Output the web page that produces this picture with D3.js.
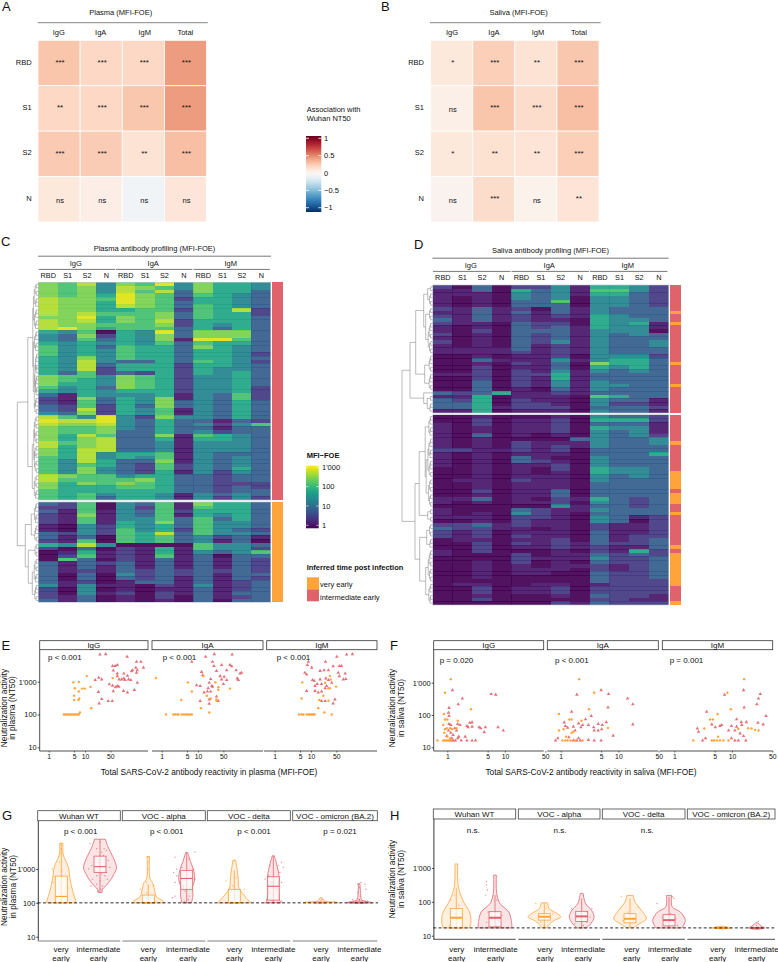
<!DOCTYPE html>
<html><head><meta charset="utf-8">
<script src="https://cdn.jsdelivr.net/npm/d3@7"></script>
<style>html,body{margin:0;padding:0;background:#fff}svg{display:block}text{font-family:"Liberation Sans",Arial,sans-serif;fill:#111}</style>
</head><body><svg id="c" width="778" height="962"></svg>
<script>
// ---------- DATA ----------
const antibodyCols=["IgG","IgA","IgM","Total"];
const antigenRows=["RBD","S1","S2","N"];
const assocPlasma=[[.28,.2,.2,.42],[.2,.2,.27,.42],[.26,.25,.15,.3],[.12,.08,-.05,.13]];
const sigPlasma=[["***","***","***","***"],["**","***","***","***"],["***","***","**","***"],["ns","ns","ns","ns"]];
const assocSaliva=[[.12,.24,.15,.27],[.07,.28,.18,.3],[.12,.16,.14,.24],[.04,.18,.05,.14]];
const sigSaliva=[["*","***","**","***"],["ns","***","***","***"],["*","**","**","***"],["ns","***","ns","**"]];
const levelLog10=[0,.18,.51,.9,1.35,1.77,2.1,2.4,2.64,2.85];
const plasmaIntermediate=["768476947554","767487647554","767486837553","767597636543","877697625543","877597635543","877587636543","877556626582","878666736552","779576736553","878576825553","877666725453","897566635353","546054937773","437254737773","436354719963","545454636553","645365537543","645465535543","645465535542","547465535543","548433536542","548355525543","548255525443","536232525453","766476524453","765476524453","755476524453","645376524452","545455524452","315444514362","217354714362","216354734353","326253734353","328254614353","437254614353","864942744353","988943533132","877843534246","766743533133","766733534233","758633716543","757833515543","867833414443","857833414443","758833414443","758455614333","658454614343","648533714343","646532624343","647432624353","647432514243","876645533233","866667533233","757676533222","755566533232","655555533233","656455414343","656355414242"];
const plasmaEarly=["326043617553","226042616553","316143625553","217143615453","216144636353","216154736443","104254536443","104264526432","324265836443","313065634231","216065634130","548400006443","203021516442","015121514346","026121613033","063021313132","313231313132","313131313132","312132323232","303042323133","303032313132","312013313123","414110214123","204010113123","204120213133","213010203123","313010103033"];
const salivaIntermediate=["203022415542","113053416642","111043415532","101043404432","101033604432","101033304432","213120314333","113131314333","213121215433","313121105443","211032205451","101032315441","102033314440","201032314343","101032314333","201032414334","101031214334","111131214333","111121214333","001011204442","003111414553","001021307553","002011305453","002021414343","112022513333","002021513333","003021414333","003021414433","003010314333","323511213333","115011106533","325021104331","335022104221","335122203332","115011104331"];
const salivaEarly=["001000104332","002011205552","102011203331","101011205441","101011204341","103010104342","101000034334","101021114334","101021214333","221121203333","101011103335","101031004333","101032104333","101011204333","001010205443","001010105443","001011104343","011021104333","001011103333","001011103333","002011303333","001011303333","113010215323","101011204323","000000413323","100032114333","101042103333","111022104312","001021104302","223121102112","322110102112","212011103112","212021103122","011011203123","002021213223","002011212113","102000102152","100020113232","000021114223","001020103223","001010112123","001011102123","001011003223","001000003223","000000003222","011001101222","002011202222","002011202222","001000103221","002000002211","000000213222"];
const subCols=["RBD","S1","S2","N","RBD","S1","S2","N","RBD","S1","S2","N"];
const isotypes=["IgG","IgA","IgM"];
const salivaTopEarlyRows=[7,10,21,27];
const salivaBottomEarlyRows=[7,15,16,17,18,19,21,22,23,26,35,37,38,39,40,41,42,43,44,45,50];
// dendrograms: [merge height, left, right]; a number is a small block of that many leaves
const plasmaTree=[21,[10.5,[5.5,13,[5,6,[4,12,5]]],[6,[4.5,8,8],7]],[13,[7,6,5],[10,4,[6,7,5]]]];
const salivaTree=[30.7,[22.7,[17,[9,[5,2,4],[7,4,9]],[8,5,5]],[9,1,[5.5,2,3]]],[17.7,[13.5,[7.5,6,[6.5,11,8]],[5,2,2]],[13,[6,4,3],[7,9,6]]]];
// scatter values as log10(MFI-FOE), log10(NT50)
const ePlasmaIgG=[[.42,2],[.47,2],[.51,2],[.56,2],[.61,2],[.65,2],[.7,2],[.74,2],[.79,2],[.83,2],[.86,2.06],[.68,2.98],[.83,2.99],[.72,2.8],[.83,2.7],[.7,2.57],[.84,2.49],[.7,2.44],[.82,2.44],[.92,2.79],[.99,2.79],[1.05,3.17],[1.15,2.84],[1.17,2.19],[1.76,3.11]];
const iPlasmaIgG=[[1.41,3.83],[1.57,3.84],[2.16,3.76],[2.42,3.61],[2.54,3.61],[1.89,3.51],[1.83,3.48],[1.76,3.48],[1.78,3.34],[2.61,3.43],[2.4,3.43],[2.44,3.35],[2.31,3.35],[2.28,3.32],[1.89,3.25],[2.07,3.25],[2.42,3.27],[1.89,3.17],[2.07,3.1],[2.01,3.07],[2.17,3.18],[2.2,3.07],[2.26,3.05],[1.38,3.12],[1.46,3.07],[1.28,3.05],[2.44,2.97],[2.1,3.05],[1.94,3.07],[1.67,2.92],[1.76,2.88],[1.89,2.87],[1.84,2.83],[1.93,2.85],[1.37,2.69],[1.78,2.71],[2.06,2.72],[2.36,2.75],[2.17,2.67],[1.46,2.47],[1.39,2.34],[1.64,2.41],[1.75,2.41]];
const ePlasmaIgA=[[.12,2],[.32,2],[.37,2],[.43,2],[.46,2],[.55,2],[.61,2],[.67,2],[.72,2],[.78,2],[.83,2],[-.16,3.11],[.72,2.98],[.83,2.7],[.54,2.44],[1.15,3.17],[1.48,2.98],[1.56,2.83],[1.56,2.75],[1.88,2.79],[1.24,2.57],[1.35,2.49],[1.51,2.46],[1.51,2.42],[1.08,2.19],[1.31,2.06]];
const iPlasmaIgA=[[1.21,3.76],[1.45,3.84],[1.94,3.83],[.83,3.61],[1.4,3.61],[1.44,3.48],[1.65,3.51],[1.88,3.51],[1.93,3.47],[1.51,3.33],[1.79,3.35],[2.05,3.35],[1.1,3.3],[2.2,3.27],[2.16,3.25],[1.13,3.2],[1.61,3.17],[1.72,3.15],[1.65,3.07],[1.79,3.05],[1.35,3.08],[1.31,2.97],[.96,2.89],[1.06,2.87],[1.38,2.87],[2.08,3.1],[2.11,3.05],[1.7,2.93],[1.28,2.8],[1.26,2.7],[1.17,2.67],[1.4,2.85],[1.35,2.7],[1.06,2.41],[1.31,2.46],[1.56,2.41],[1.31,2.33],[1.51,2.55]];
const ePlasmaIgM=[[.67,2],[.74,2],[.79,2],[.88,2],[.93,2],[.97,2],[1.02,2],[1.06,2],[1.1,2],[1.57,2],[.76,2.98],[.74,2.49],[1.23,2.44],[1.34,2.57],[1.48,2.42],[1.2,2.19],[1.37,2.06],[1.52,3.17],[1.54,3.07],[1.48,2.8],[1.52,2.8],[1.69,2.85],[1.39,2.97]];
const iPlasmaIgM=[[1.98,3.83],[2.14,3.84],[1.71,3.76],[.93,3.61],[.9,3.51],[1.02,3.43],[1.4,3.61],[1.61,3.47],[1.78,3.48],[1.84,3.48],[1.48,3.35],[1.36,3.35],[1.25,3.33],[1.75,3.27],[1.94,3.25],[1.78,3.17],[1.96,3.08],[1.89,3.07],[.83,3.27],[.88,3.22],[1.04,3.05],[1.09,3.03],[1.25,3.07],[1.41,3.1],[1.48,3.05],[1.57,2.97],[1.11,2.87],[1.17,2.93],[1.29,2.93],[.88,2.72],[1.11,2.72],[1.2,2.67],[1.29,2.7],[1.39,2.8],[1.43,2.87],[1.29,2.41],[1.39,2.41],[1.66,2.46],[1.61,2.34]];
const eSalivaIgG=[[.06,3.11],[-.04,2.69],[.41,2.18],[-.06,2.03],[-.04,1.86],[0,1.86],[.18,1.82],[-.07,1.69],[-.04,1.56],[-.01,1.59],[.05,1.59],[.08,1.57],[-.05,1.45],[.16,1.59],[-.17,1.21],[-.07,1.21],[-.04,1.21],[-.01,1.21],[.02,1.21],[.05,1.21],[0,1.33],[.05,1.28]];
const iSalivaIgG=[[.09,2.77],[.26,2.51],[.19,2.33],[.03,2.22],[.02,2.07],[.03,1.97],[.76,2.65],[.84,2.63],[.39,1.76],[.43,1.77],[.55,1.62],[.66,1.62],[.58,1.59],[.64,1.47],[.88,1.62],[.97,1.52],[.03,1.72],[.06,1.69],[.18,1.72],[.22,1.69],[.34,1.66],[.36,1.62],[.43,1.64],[.13,1.59],[.16,1.52],[.02,1.52],[.06,1.45],[.1,1.38],[.2,1.33],[.18,1.28],[.31,1.33],[.06,1.21],[.1,1.21],[.14,1.21],[.24,1.21],[.34,1.21],[.43,1.21],[.49,1.21],[.08,1.28],[-.01,1.35]];
const eSalivaIgA=[[.32,3.11],[.58,2.69],[-.03,2.03],[.49,2.18],[.15,1.86],[.19,1.86],[.36,1.82],[-.03,1.52],[.05,1.56],[.19,1.45],[.09,1.33],[.82,1.6],[.03,1.21],[.08,1.21],[.12,1.21],[.17,1.21],[.25,1.21],[.38,1.21],[.22,1.48]];
const iSalivaIgA=[[.7,2.77],[.28,2.63],[.83,2.65],[1.16,2.51],[1.25,2.33],[.82,2.23],[.19,2.1],[.53,1.97],[.79,1.78],[.06,1.77],[1.25,1.71],[.43,1.87],[.31,1.74],[.38,1.69],[.48,1.69],[.65,1.72],[.72,1.69],[.08,1.66],[.12,1.61],[.22,1.64],[.35,1.62],[.57,1.62],[.71,1.56],[.65,1.52],[.58,1.52],[.25,1.52],[.91,1.36],[-.05,1.28],[-.09,1.21],[.14,1.31],[.31,1.28],[.48,1.23],[.58,1.21],[.7,1.21],[.22,1.21],[.28,1.21],[.34,1.21]];
const eSalivaIgM=[[1.21,3.11],[.92,2.69],[.98,2.18],[.75,2.03],[.62,1.86],[.67,1.86],[.52,1.58],[1.11,1.57],[1.28,1.59],[1.34,1.58],[1.4,1.54],[1.46,1.52],[.33,1.21],[.65,1.21],[.69,1.21],[.74,1.21],[.79,1.21],[.85,1.21],[.94,1.21],[.76,1.33]];
const iSalivaIgM=[[1.2,2.77],[.87,2.63],[1.49,2.65],[1.46,2.51],[1.43,2.33],[1.21,2.23],[.56,2.1],[1.59,1.97],[1.08,1.87],[1.16,1.78],[1.25,1.78],[1.45,1.76],[1.54,1.71],[.4,1.58],[.42,1.48],[.65,1.71],[.79,1.66],[.82,1.69],[.99,1.66],[1.08,1.64],[1.17,1.69],[.71,1.62],[.94,1.52],[1.05,1.52],[1.14,1.43],[1.2,1.35],[.54,1.28],[.49,1.21],[.99,1.28],[1.05,1.21],[1.11,1.21],[1.24,1.21]];
const pLabelsE=["p < 0.001","p < 0.001","p < 0.001"];
const pLabelsF=["p = 0.020","p < 0.001","p = 0.001"];
const variants=["Wuhan WT","VOC - alpha","VOC - delta","VOC - omicron (BA.2)"];
const pLabelsG=["p < 0.001","p < 0.001","p < 0.001","p = 0.021"];
const pLabelsH=["n.s.","n.s.","n.s.",""];
// violin profiles: [log10 NT50, relative density]
const gProfiles=[
 [[3.76,.1],[3.42,.12],[3.07,.42],[2.67,.54],[2.28,.73],[2.1,.85],[2,.9]],
 [[3.88,.33],[3.66,.48],[3.37,.77],[3.05,1],[2.87,.87],[2.57,.48],[2.4,.15],[2.31,.13]],
 [[3.37,.08],[2.72,.1],[2.57,.29],[2.38,.38],[2.18,.5],[2.06,.87],[2,1]],
 [[3.49,.06],[3.22,.23],[2.96,.42],[2.67,.48],[2.47,.35],[2.23,.38],[2,.29]],
 [[3.26,.08],[2.77,.23],[2.43,.29],[2.23,.58],[2,1]],
 [[3.39,.06],[3.17,.19],[2.77,.35],[2.37,.29],[2.08,.38],[2,.48]],
 [[2.15,.06],[2.06,.19],[2.02,.96],[2,1.06]],
 [[2.57,.04],[2.27,.08],[2.08,.15],[2.02,.67],[2,.77]]];
const hProfiles=[
 [[3.12,.08],[2.45,.12],[2.05,.38],[1.65,.81],[1.36,.85],[1.23,.77]],
 [[2.79,.08],[2.25,.1],[1.95,.29],[1.7,.81],[1.45,.96],[1.23,1]],
 [[1.97,.19],[1.8,.29],[1.65,.77],[1.55,.96],[1.45,.58],[1.33,.29],[1.23,.15]],
 [[2.25,.08],[1.95,.23],[1.75,.58],[1.55,.73],[1.36,.54],[1.23,.29]],
 [[2.19,.19],[2,.29],[1.75,.67],[1.5,.96],[1.36,.58],[1.23,.19]],
 [[2.19,.15],[1.85,.19],[1.7,.67],[1.45,.96],[1.23,.77]],
 [[1.28,.1],[1.25,.4],[1.23,.58],[1.2,.1]],
 [[1.38,.06],[1.28,.29],[1.23,.48],[1.19,.1]]];
// box stats: low, q1, median, q3, high (log10)
const gBoxes=[[2,2,2.19,2.79,3.76],[2.31,2.9,3.07,3.38,3.88],[2,2,2,2.23,2.55],[2,2.4,2.72,2.96,3.49],[2,2,2,2.4,2.95],[2,2.08,2.49,2.77,3.39],[2,2,2,2.03,2.1],[2,2,2,2.05,2.12]];
const hBoxes=[[1.23,1.23,1.53,1.8,2.4],[1.23,1.26,1.53,1.71,2.2],[1.23,1.46,1.56,1.65,1.95],[1.23,1.42,1.57,1.72,2.1],[1.23,1.38,1.5,1.65,2.1],[1.23,1.29,1.46,1.62,2.15],[1.23,1.23,1.23,1.23,1.23],[1.23,1.23,1.23,1.23,1.23]];
// jitter: [offset in violin half-widths, log10 NT50]
const gJitter=[
 [[-.46,2.77],[.4,2.43],[-.3,2],[.1,2],[.3,2],[-.6,2],[0,3.75],[0,3.6],[0,3.45],[-.1,3.2],[.05,2.95],[-.5,2.6],[-.55,3],[.5,2]],
 [[-.6,3.75],[.1,3.5],[-.2,3.6],[.4,3.55],[-.3,3.3],[.3,3.3],[-.1,3.2],[.2,3.4],[.5,3.25],[-.5,3.1],[-.7,3],[.6,3.05],[.05,3.1],[-.3,2.95],[.4,2.9],[.1,2.85],[-.2,2.8],[.3,2.8],[-.45,2.7],[.45,2.7],[0,2.65],[-.2,2.55],[.15,2.5],[-.55,2.5],[.05,2.4],[-.1,2.35],[.25,3.6],[0,3.8]],
 [[0,3.35],[0,3.2],[0,3],[-.1,2.6],[-.5,2.4],[.3,2.5],[-.1,2.3],[.4,2.05],[-.5,2],[-.2,2],[.1,2],[.4,2]],
 [[.5,3.5],[-.7,3.35],[.1,3.3],[-.6,3],[-.3,3.05],[.4,3],[.3,2.9],[-.8,2.9],[-.6,2.8],[.2,2.75],[-.3,2.7],[.5,2.7],[-.7,2.6],[-.2,2.5],[.3,2.45],[-.1,2.35],[-.7,2.2],[-.85,2.15],[.15,2.2],[.1,2.1],[-.15,2.05],[.1,2],[.6,2]],
 [[0,3.25],[-.5,2.65],[.1,2.75],[-.1,2.5],[.6,2.4],[-.5,2],[-.2,2],[.2,2],[.5,2]],
 [[.5,3.2],[.3,3.1],[.6,3.05],[-.2,3.1],[.4,2.9],[-.3,2.8],[-.5,2.7],[.5,2.6],[-.1,2.6],[.2,2.4],[-.2,2.3],[.3,2.2],[-.4,2.1],[.5,2.05],[-.5,2],[0,2],[.4,2]],
 [[.05,2.12],[.1,2.1],[-.4,2],[-.1,2],[.3,2],[.6,2]],
 [[-.1,2.55],[.1,2.6],[.35,2.55],[0,2.45],[.4,2.4],[-.05,2.3],[.05,2.2],[-.4,2.1],[0,2.1],[.5,2.05],[-.6,2],[-.2,2],[.3,2],[.7,2]]];
const hJitter=[
 [[.2,2.65],[-.3,2.05],[-.1,2.2],[.15,1.9],[-.3,1.6],[.1,1.5],[-.4,1.3],[.3,1.3],[0,1.23]],
 [[-.5,2.6],[-.5,2.5],[-.55,2.2],[-.45,2.35],[.1,2.05],[-.4,1.7],[.4,1.6],[-.2,1.5],[.2,1.45],[-.5,1.4],[.1,1.3],[-.1,1.23],[.3,1.23]],
 [[-.5,1.95],[.1,1.8],[-.3,1.6],[.5,1.65],[.2,1.55],[-.2,1.4],[0,1.3]],
 [[.1,2.2],[-.6,1.8],[.6,1.8],[.3,1.7],[-.3,1.6],[.5,1.55],[-.1,1.5],[.3,1.4],[-.4,1.35],[.1,1.3],[0,1.23]],
 [[-.5,2.15],[.5,1.85],[-.1,1.7],[.3,1.5],[-.4,1.45],[.2,1.4],[0,1.25]],
 [[.2,2.15],[.3,2.1],[-.7,1.95],[.1,1.65],[-.4,1.55],[.4,1.5],[-.2,1.35],[.5,1.3],[0,1.23]],
 [[-.3,1.23],[.1,1.23],[.3,1.23]],
 [[.1,1.42],[0,1.3],[-.3,1.23],[.3,1.23]]];
const timeLabels=["very early","intermediate early"];
const nt50Ticks=[10,100,1000];
const mfiTicks=[1,5,10,50];
const legendAssocTicks=[1,.5,0,-.5,-1];
const legendMfiTicks=[1000,100,10,1];

// ---------- HELPERS ----------
const ORANGE="#FFA33A",RED="#E0636B";
const svg=d3.select("#c");
const pow=v=>Math.pow(10,v);
const fmt=v=>v>=1000?"1'000":String(v);
function txt(x,y,s,o={}){return svg.append("text").attr("x",x).attr("y",y).attr("dy",".35em").attr("text-anchor",o.a||"middle")
  .attr("font-size",o.s||7.5).attr("font-weight",o.w||null).attr("transform",o.r?`rotate(${o.r} ${x} ${y})`:null).text(s);}
function ln(x1,y1,x2,y2,c="#555",w=.8,d=null){return svg.append("line").attr("x1",x1).attr("y1",y1).attr("x2",x2).attr("y2",y2).attr("stroke",c).attr("stroke-width",w).attr("stroke-dasharray",d);}
[["A",2,6],["B",381,6],["C",1,241],["D",414,244],["E",1.5,645],["F",390,645],["G",2,815],["H",390,815]].forEach(d=>txt(d[1],d[2],d[0],{a:"start",s:13}));

// ---------- A / B association heat maps ----------
const assocColor=d3.scaleDiverging(d3.interpolateRgbBasis(["#67001f","#b2182b","#d6604d","#f4a582","#fddbc7","#ffffff","#d1e5f0","#92c5de","#4393c3","#2166ac","#053061"])).domain([1,0,-1]);
function assoc(vals,sig,title,x0,x1,lineX0,lineX1,titleX,labelXs,rowRight){
  const x=d3.scaleBand().domain(antibodyCols).range([x0,x1]);
  const y=d3.scaleBand().domain(antigenRows).range([40.3,222]);
  txt(titleX,12,title); ln(lineX0,22.7,lineX1,22.7,"#666",.8);
  antibodyCols.forEach((c,i)=>txt(labelXs[i],32,c));
  antigenRows.forEach((r,j)=>{
    txt(rowRight,y(r)+y.bandwidth()/2-1,r,{a:"end"});
    antibodyCols.forEach((c,i)=>{
      svg.append("rect").attr("x",x(c)).attr("y",y(r)).attr("width",x.bandwidth()).attr("height",y.bandwidth()).attr("fill",assocColor(vals[j][i])).attr("stroke","#fff").attr("stroke-width",.8);
      const s=sig[j][i];
      txt(x(c)+x.bandwidth()/2+1,y(r)+y.bandwidth()/2-(s==="ns"?-1:1),s,{s:s==="ns"?7.5:8});
    });
  });
}
assoc(assocPlasma,sigPlasma,"Plasma (MFI-FOE)",38,206.5,37.7,207.7,120.7,[58.7,100.7,144.7,185.3],31.7);
assoc(assocSaliva,sigSaliva,"Saliva (MFI-FOE)",430.7,599,430,600.7,518.7,[452,494,538,579],424);

// legend association
const defs=svg.append("defs");
const g1=defs.append("linearGradient").attr("id","gA").attr("x1",0).attr("x2",0).attr("y1",0).attr("y2",1);
d3.range(0,1.001,.05).forEach(t=>g1.append("stop").attr("offset",t).attr("stop-color",assocColor(1-2*t)));
const yA=d3.scaleLinear().domain([1,-1]).range([138.3,207.7]);
txt(306.7,109,"Association with",{a:"start"});txt(306.7,118,"Wuhan NT50",{a:"start"});
svg.append("rect").attr("x",306).attr("y",136).attr("width",15.3).attr("height",76).attr("fill","url(#gA)");
legendAssocTicks.forEach(v=>{ln(306,yA(v),309,yA(v),"#fff",.8);ln(318.3,yA(v),321.3,yA(v),"#fff",.8);
  txt(324,yA(v),String(v).replace("-","\u2212").replace(/^(\u2212?)\./,"$10."),{a:"start",s:7.5});});

// ---------- C / D profile heat maps ----------
const mfiColor=d3.scaleSequentialLog(d3.interpolateViridis).domain([1,1000]);
function block(n,ph){ if(n<=1) return 1; const h=Math.min(ph-.6,1+1.1*Math.log2(n)); const a=Math.ceil(n/2); return [h,block(a,h),block(n-a,h)]; }
function expand(t,ph){ if(typeof t==="number") return block(t,ph); return [t[0],expand(t[1],t[0]),expand(t[2],t[0])]; }
function profile(o){
  const cols=d3.range(12);
  const x=d3.scaleBand().domain(cols).range([o.x0,o.x1]);
  const rows=o.top.length+o.bottom.length;
  const yTop=d3.scaleBand().domain(d3.range(o.top.length)).range([o.y0,o.y1]);
  const yBot=d3.scaleBand().domain(d3.range(o.top.length,rows)).range([o.y2,o.y3]);
  const yRow=i=>i<o.top.length?yTop(i):yBot(i);
  const bw=i=>i<o.top.length?yTop.bandwidth():yBot.bandwidth();
  const lastTop=o.top.length-1;
  const g=svg.append("g").attr("shape-rendering","crispEdges");
  [...o.top,...o.bottom].forEach((r,i)=>{
    const h=(i===lastTop||i===rows-1)?bw(i):bw(i)+.5;
    cols.forEach(c=>g.append("rect").attr("x",x(c)).attr("y",yRow(i)).attr("width",x.bandwidth()+.3).attr("height",h).attr("fill",mfiColor(pow(levelLog10[+r[c]]))).attr("opacity",.93));
    g.append("rect").attr("x",o.x1+1.7).attr("y",yRow(i)).attr("width",o.barW).attr("height",h).attr("fill",o.early(i)?ORANGE:RED);
  });
  [[o.y0,o.y1],[o.y2,o.y3]].forEach(s=>svg.append("rect").attr("x",o.x0).attr("y",s[0]).attr("width",o.x1-o.x0).attr("height",s[1]-s[0]).attr("fill","none").attr("stroke","#b9c6d0").attr("stroke-width",.6));
  // titles
  txt((o.x0+o.x1)/2-(o.shift||0),o.ty,o.title); ln(o.x0-.3,o.ty+8.2,o.x1+.3,o.ty+8.2,"#777",1);
  isotypes.forEach((g2,k)=>{
    const a=x(k*4)+.3,b=x(k*4+3)+x.bandwidth()-.8;
    txt((a+b)/2-1,o.ty+15,g2); ln(a,o.ty+21.4,b,o.ty+21.4,"#555",.8);
  });
  subCols.forEach((s,i)=>txt(x(i)+x.bandwidth()/2+.3,o.ty+27.4,s,{s:7.3}));
  // dendrogram
  const dx=d3.scaleLinear().domain([0,o.tree[0]]).range([o.x0,o.x0-o.tree[0]]);
  let leaf=0;
  function walk(t){
    if(t===1){const i=leaf++;return {y:yRow(i)+bw(i)/2,x:o.x0};}
    const a=walk(t[1]),b=walk(t[2]),xx=dx(t[0]);
    const p=`M${a.x},${a.y}H${xx}V${b.y}H${b.x}`;
    svg.append("path").attr("d",p).attr("fill","none").attr("stroke","#777").attr("stroke-width",.5);
    return {x:xx,y:(a.y+b.y)/2};
  }
  walk(expand(o.tree,o.tree[0]));
}
profile({x0:38.3,x1:270.7,y0:282.3,y1:500,y2:502,y3:602.3,barW:10.4,top:plasmaIntermediate,bottom:plasmaEarly,early:i=>i>=plasmaIntermediate.length,title:"Plasma antibody profiling (MFI-FOE)",ty:248,tree:plasmaTree});
profile({x0:432.7,x1:668.3,y0:285,y1:413,y2:414.7,y3:605,barW:11,top:salivaIntermediate,bottom:salivaEarly,early:i=>i<salivaIntermediate.length?salivaTopEarlyRows.includes(i):salivaBottomEarlyRows.includes(i-salivaIntermediate.length),title:"Saliva antibody profiling (MFI-FOE)",ty:250,tree:salivaTree});

// legends
txt(306.7,455,"MFI\u2212FOE",{a:"start",w:"bold"});
const g2=defs.append("linearGradient").attr("id","gM").attr("x1",0).attr("x2",0).attr("y1",0).attr("y2",1);
d3.range(0,1.001,.05).forEach(t=>g2.append("stop").attr("offset",t).attr("stop-color",d3.interpolateViridis(1-t)));
const yM=d3.scaleLog().domain([1000,1]).range([467.3,525.3]);
svg.append("rect").attr("x",306).attr("y",465.7).attr("width",12.7).attr("height",62.6).attr("fill","url(#gM)");
legendMfiTicks.forEach(v=>{ln(306,yM(v),308.5,yM(v),"#fff",.6);ln(316.2,yM(v),318.7,yM(v),"#fff",.6);txt(322,yM(v),fmt(v),{a:"start"});});
txt(306.7,567,"Inferred time post infection",{a:"start",w:"bold"});
timeLabels.forEach((t,i)=>{svg.append("rect").attr("x",307).attr("y",577.3+i*12).attr("width",12).attr("height",12).attr("fill",i?RED:ORANGE);txt(320,584+i*13.5,t,{a:"start"});});

// ---------- E / F scatter ----------
function scatter(o){
  const y=d3.scaleLog().domain([10,1000]).range(o.yr);
  const ax=svg.append("g").attr("transform",`translate(${o.strips[0][0]},0)`).call(d3.axisLeft(y).tickValues(nt50Ticks).tickFormat(fmt).tickSize(2).tickPadding(1));
  ax.select(".domain").remove();ax.selectAll("text").attr("font-size",7.4);ax.selectAll("line").attr("stroke-width",.7);
  ln(o.strips[0][0],650,o.strips[0][0],o.axisY,"#222",.8);
  o.strips.forEach((s,i)=>{
    svg.append("rect").attr("x",s[0]).attr("y",640.7).attr("width",s[1]-s[0]).attr("height",9).attr("fill","#fff").attr("stroke","#333").attr("stroke-width",.8);
    txt((s[0]+s[1])/2,645.4,isotypes[i],{s:8});
    const x=d3.scaleLog().domain([1,10]).range([o.x1[i],o.x1[i]+o.dec]);
    const a=svg.append("g").attr("transform",`translate(0,${o.axisY})`).call(d3.axisBottom(x).tickValues(mfiTicks).tickFormat(d=>d).tickSize(1.5).tickPadding(1.5).tickSizeOuter(0));
    a.select(".domain").remove();a.selectAll("text").attr("font-size",6.8);a.selectAll("line").attr("stroke-width",.6);
    ln(o.axisX[i][0],o.axisY,o.axisX[i][1],o.axisY,"#222",.8);
    txt(o.pX[i],o.pY,o.p[i],{a:"start",s:8});
    svg.append("g").selectAll("path").data(o.red[i]).join("path").attr("d",d3.symbol(d3.symbolTriangle,5.5)).attr("transform",d=>`translate(${x(pow(d[0]))},${y(pow(d[1]))})`).attr("fill",RED).attr("opacity",.9);
    svg.append("g").selectAll("circle").data(o.orange[i]).join("circle").attr("cx",d=>x(pow(d[0]))).attr("cy",d=>y(pow(d[1]))).attr("r",1.2).attr("fill",ORANGE);
  });
  txt(o.xtX,772,o.xt,{s:8.3});
  txt(o.yt[0],708,"Neutralization activity",{r:-90,s:8.3});txt(o.yt[1],708,o.yt2,{r:-90,s:8.3});
}
scatter({yr:[747.3,681.7],strips:[[39.7,148],[152,263],[266.7,377]],axisY:751,axisX:[[39.7,148],[152,263],[264,377]],x1:[48.7,161.7,274.7],dec:36.3,
  red:[iPlasmaIgG,iPlasmaIgA,iPlasmaIgM],orange:[ePlasmaIgG,ePlasmaIgA,ePlasmaIgM],p:pLabelsE,pX:[48,162.7,276.7],pY:657,xt:"Total SARS-CoV-2 antibody reactivity in plasma (MFI-FOE)",xtX:209,yt:[4,12.5],yt2:"in plasma (NT50)"});
scatter({yr:[747.3,682.7],strips:[[433.7,543.7],[547.3,658.3],[662.3,772.7]],axisY:751,axisX:[[433.7,543.7],[547.3,658.3],[660,772.7]],x1:[447.3,560.7,674.3],dec:57.7,
  red:[iSalivaIgG,iSalivaIgA,iSalivaIgM],orange:[eSalivaIgG,eSalivaIgA,eSalivaIgM],p:pLabelsF,pX:[439.7,555,669.7],pY:660,xt:"Total SARS-CoV-2 antibody reactivity in saliva (MFI-FOE)",xtX:591,yt:[392,400.7],yt2:"in saliva (NT50)"});

// ---------- G / H violins ----------
function violins(o){
  const y=d3.scaleLog().domain([10,1000]).range(o.yr);
  const w=d3.scaleLinear().domain([0,1]).range([0,o.maxW]);
  const ax=svg.append("g").attr("transform",`translate(${o.strips[0][0]+.6},0)`).call(d3.axisLeft(y).tickValues(nt50Ticks).tickFormat(fmt).tickSize(2).tickPadding(1));
  ax.select(".domain").remove();ax.selectAll("text").attr("font-size",7.4);ax.selectAll("line").attr("stroke-width",.7);
  ln(o.strips[0][0]+.6,o.stripY+10,o.strips[0][0]+.6,o.axisY,"#222",.9);
  o.strips.forEach((s,i)=>{
    svg.append("rect").attr("x",s[0]).attr("y",o.stripY).attr("width",s[1]-s[0]).attr("height",10).attr("fill","#fff").attr("stroke","#444").attr("stroke-width",.8);
    txt((s[0]+s[1])/2,o.stripY+5,variants[i],{s:8});
    ln(s[0],o.axisY,s[1],o.axisY,o.axisC,o.axisW);
    if(o.p[i]) txt(o.pX[i],o.pY,o.p[i],{s:8});
    const x=d3.scalePoint().domain(timeLabels).range(o.cx[i]);
    timeLabels.forEach((t,k)=>{
      const c=x(t),col=k?RED:ORANGE,idx=i*2+k,prof=o.prof[idx],b=o.box[idx];
      const area=d3.area().y(d=>y(pow(d[0]))).x0(d=>c-w(d[1])).x1(d=>c+w(d[1])).curve(d3.curveCatmullRom.alpha(.5));
      svg.append("path").attr("d",area(prof)).attr("fill",col).attr("fill-opacity",.17).attr("stroke",col).attr("stroke-width",.8);
      svg.append("g").selectAll("circle").data(o.jit[idx]).join("circle").attr("cx",d=>c+w(d[0])).attr("cy",d=>y(pow(d[1]))).attr("r",.7).attr("fill",col).attr("opacity",.7);
      ln(c,y(pow(b[0])),c,y(pow(b[4])),col,.8);
      svg.append("rect").attr("x",c-6).attr("width",12).attr("y",y(pow(b[3]))).attr("height",Math.max(.5,y(pow(b[1]))-y(pow(b[3])))).attr("fill","#fff").attr("fill-opacity",.65).attr("stroke",col).attr("stroke-width",.8);
      ln(c-6,y(pow(b[2])),c+6,y(pow(b[2])),col,o.medW);
      const tx=txt(o.lx[i][k],o.labY,"",{s:8});
      tx.attr("dy",null);
      const parts=k?["intermediate","early"]:["very","early"];
      parts.forEach((p,n)=>tx.append("tspan").attr("x",o.lx[i][k]).attr("y",o.labY+n*8.5).text(p));
    });
  });
  ln(o.strips[0][0],y(o.dash),o.dashEnd,y(o.dash),"#111",.9,"3 2.2");
  txt(o.yt[0],o.ytY,"Neutralization activity",{r:-90,s:8.3});txt(o.yt[1],o.ytY,o.yt2,{r:-90,s:8.3});
}
violins({yr:[936.7,869],strips:[[37.7,120.3],[122.3,205.3],[207.3,290.3],[292.7,377.3]],stripY:810.7,axisY:941,axisC:"#aaa",axisW:1.3,
  p:pLabelsG,pX:[80.7,166.7,254,340],pY:831,cx:[[61.3,100],[148.3,186.7],[234.3,273.3],[321,359.3]],lx:[[61,98.5],[148.3,188],[234.5,273.5],[321,359.5]],prof:gProfiles,box:gBoxes,jit:gJitter,maxW:16.5,medW:1.1,labY:952.2,dash:100,dashEnd:378,yt:[4,12.7],ytY:886.7,yt2:"in plasma (NT50)"});
violins({yr:[935.7,868],strips:[[433.3,515.7],[518.3,600],[602.3,685],[687.3,775]],stripY:809,axisY:939.3,axisC:"#222",axisW:.8,
  p:pLabelsH,pX:[473.3,560,647.3,0],pY:830,cx:[[456.3,495],[544.3,581.7],[630,669],[721.7,756.7]],lx:[[456.7,495.7],[545,583.3],[631.7,670],[717.7,756.7]],prof:hProfiles,box:hBoxes,jit:hJitter,maxW:17,medW:2,labY:952.2,dash:17,dashEnd:775,yt:[392.3,401],ytY:879,yt2:"in saliva (NT50)"});
</script></body></html>
